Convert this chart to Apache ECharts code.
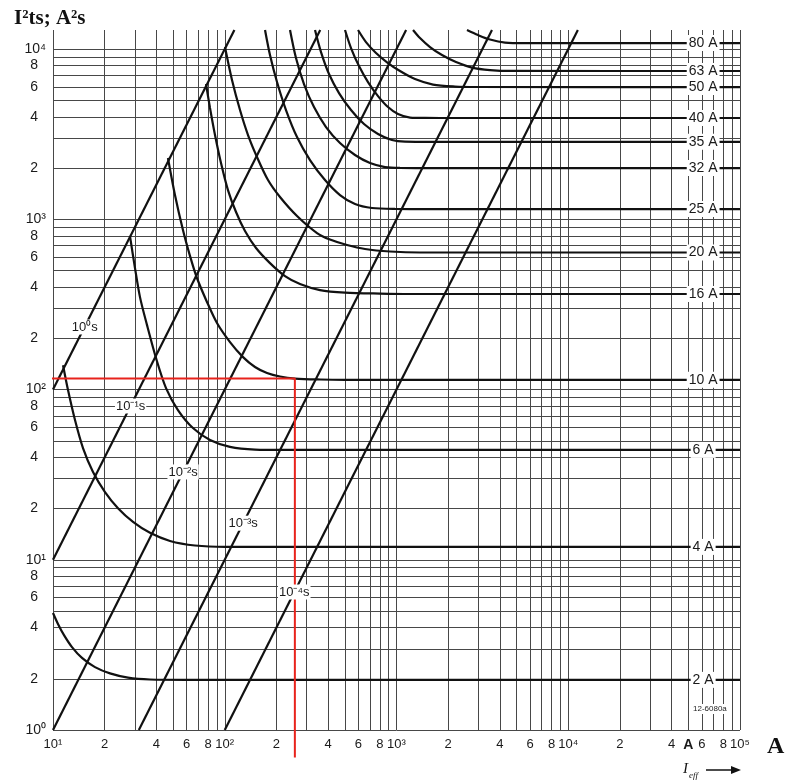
<!DOCTYPE html>
<html><head><meta charset="utf-8">
<script src="https://cdn.jsdelivr.net/npm/echarts@6/dist/echarts.min.js"></script>
<style>html,body{margin:0;padding:0;background:#fff}#c{width:798px;height:780px}</style>
</head><body><div id="c"></div>
<script>
// ---------- axis ranges ----------
const X_MIN = 10, X_MAX = 100000, Y_MIN = 1, Y_MAX = 12940;

// ---------- grid line values ----------
const xGrid = [10,20,30,40,50,60,70,80,90,100,200,300,400,500,600,700,800,900,
  1000,2000,3000,4000,5000,6000,7000,8000,9000,10000,20000,30000,40000,50000,60000,70000,80000,90000,100000];
const yGrid = [1,2,3,4,5,6,7,8,9,10,20,30,40,50,60,70,80,90,100,200,300,400,500,600,700,800,900,
  1000,2000,3000,4000,5000,6000,7000,8000,9000,10000];

// ---------- tick labels ----------
const xTickValues = [10,20,40,60,80,100,200,400,600,800,1000,2000,4000,6000,8000,10000,20000,40000,50000,60000,80000,100000];
const xTickLabels = ['10¹','2','4','6','8','10²','2','4','6','8','10³','2','4','6','8','10⁴','2','4','A','6','8','10⁵'];
const yTickValues = [1,2,4,6,8,10,20,40,60,80,100,200,400,600,800,1000,2000,4000,6000,8000,10000];
const yTickLabels = ['10⁰','2','4','6','8','10¹','2','4','6','8','10²','2','4','6','8','10³','2','4','6','8','10⁴'];

// ---------- fuse pre-arcing I²t curves (I in A, I²t in A²s) ----------
const ratingNames = ['2 A','4 A','6 A','10 A','16 A','20 A','25 A','32 A','35 A','40 A','50 A','63 A','80 A'];
const ratingFlat  = [1.97, 11.9, 44.2, 114, 364, 638, 1148, 2000, 2850, 3935, 5980, 7430, 10840];
const c2A  = [[10,4.87],[10.69,4.2],[11.59,3.61],[12.9,3.07],[14.75,2.65],[17.56,2.34],[21.47,2.15],[27.33,2.03],[36.7,1.98],[60,1.97],[100000,1.97]];
const c4A  = [[11.44,139],[12.23,99.3],[13.43,66.2],[14.95,45.3],[17.1,32.8],[20.08,25.0],[23.9,20.1],[29.24,16.7],[36.7,14.4],[48,12.9],[67.1,12.13],[100.3,11.9],[100000,11.9]];
const c6A  = [[28.07,797],[30.02,517],[32.1,349],[35.27,239],[39.8,153],[45.5,102],[53.4,75.8],[65.3,59.4],[82.1,50.5],[107.3,46],[150,44.4],[220,44.2],[100000,44.2]];
const c10A = [[46.7,2290],[51.3,1388],[57.1,865],[62.8,608],[68.9,452],[78.8,327],[90.1,246],[107.3,190],[127.8,155],[150,135.6],[176.2,125],[209.7,119.2],[256.5,116],[358.5,114.5],[500,114],[100000,114]];
const c16A = [[77.8,6230],[82.06,4503],[87.75,3125],[95.1,2140],[104.4,1485],[116.3,1103],[131.2,853],[152.1,678],[183.4,553],[224.3,464],[274.2,417],[358.5,384],[501.4,371],[801.6,366],[1200,364],[100000,364]];
const c20A = [[100.3,10270],[110.2,6575],[122.7,4383],[136.6,3125],[154.1,2321],[178.6,1700],[209.7,1351],[263.5,1045],[344.5,830],[410,760],[515,706],[655.5,669],[916.5,647],[1370,638],[100000,638]];
const c25A = [[171.6,12935],[183.4,9222],[201.5,6400],[227.3,4383],[263.5,3041],[313.6,2228],[383.5,1700],[468.8,1388],[573.4,1229],[720.1,1165],[980,1150],[1500,1148],[100000,1148]];
const c32A = [[239.9,12935],[259.9,8853],[289.3,6230],[330.9,4564],[388.7,3483],[468.8,2805],[573.4,2385],[701.1,2140],[857.1,2027],[1048,2003],[1600,2000],[100000,2000]];
const c35A = [[335.4,12935],[363.5,9603],[404.6,7133],[462.7,5515],[543.4,4383],[646.9,3627],[780.5,3168],[941.4,2921],[1121,2858],[1600,2850],[100000,2850]];
const c40A = [[501.4,12935],[543.4,10140],[604.9,7946],[682.5,6400],[780.5,5295],[892.2,4564],[1020,4152],[1199,3960],[1464,3937],[2200,3935],[100000,3935]];
const c50A = [[596.9,12935],[664.3,10990],[759.7,9474],[892.2,8276],[1048,7427],[1281,6664],[1632,6187],[2191,6022],[2900,5985],[100000,5980]];
const c63A = [[1248,12935],[1370,11600],[1567,10270],[1840,9222],[2220,8387],[2752,7785],[3503,7528],[4700,7440],[100000,7430]];
const c80A = [[2573,12935],[2983,12085],[3503,11370],[4282,10920],[5601,10845],[100000,10840]];
const fuseCurves = [c2A,c4A,c6A,c10A,c16A,c20A,c25A,c32A,c35A,c40A,c50A,c63A,c80A];
const ratingLabelX = 61000;

// ---------- constant-time lines I²t = I²·t ----------
const timeLabels = ['10⁰s','10⁻¹s','10⁻²s','10⁻³s','10⁻⁴s'];
const timeLineStart = [[10,100],[10,10],[10,1],[31.6,1],[100,1]];
const timeLineEnd   = [[113.8,12940],[359.7,12940],[1137.5,12940],[3597,12940],[11375,12940]];
const timeLabelPos  = [[15.3,233],[28.3,80],[57.2,32.8],[128,16.4],[254,6.46]];

// ---------- red reading line ----------
const redLine = [[8.1,116],[256,116],[256,0.69]];

const SANS = '"Liberation Sans", Arial, Helvetica, sans-serif';
const SERIF = '"Liberation Serif", "Times New Roman", serif';

const chart = echarts.init(document.getElementById('c'));

const gridData = [];
xGrid.forEach(v => gridData.push({coords: [[v, Y_MIN], [v, Y_MAX]]}));
yGrid.forEach(v => gridData.push({coords: [[X_MIN, v], [X_MAX, v]]}));

const series = [];
series.push({
  type: 'lines', coordinateSystem: 'cartesian2d', data: gridData, silent: true, z: 1, clip: false,
  lineStyle: {color: '#484848', width: 1, opacity: 1}
});
fuseCurves.forEach((c, i) => series.push({
  type: 'line', name: ratingNames[i], data: c, showSymbol: false, smooth: 0.3,
  lineStyle: {color: '#111', width: 2.2}, z: 3, silent: true
}));
timeLineStart.forEach((s, i) => series.push({
  type: 'line', data: [s, timeLineEnd[i]], showSymbol: false,
  lineStyle: {color: '#111', width: 2.2}, z: 3, silent: true
}));
series.push({
  type: 'line', data: redLine, showSymbol: false, clip: false,
  lineStyle: {color: '#e8231c', width: 2}, z: 4, silent: true
});
series.push({
  type: 'scatter', symbolSize: 0, z: 6, silent: true, itemStyle: {opacity: 1},
  data: ratingNames.map((n, i) => ({value: [ratingLabelX, ratingFlat[i]], name: n})),
  label: {show: true, position: 'inside', formatter: '{b}', color: '#1a1a1a', fontFamily: SANS, fontSize: 14,
    backgroundColor: '#fff', padding: [1, 2]}
});
series.push({
  type: 'scatter', symbolSize: 0, z: 6, silent: true, itemStyle: {opacity: 1},
  data: timeLabels.map((n, i) => ({value: timeLabelPos[i], name: n})),
  label: {show: true, position: 'inside', formatter: '{b}', color: '#1a1a1a', fontFamily: SANS, fontSize: 13,
    backgroundColor: '#fff', padding: [1, 1]}
});
series.push({
  type: 'scatter', symbolSize: 0, z: 6, silent: true, clip: false, itemStyle: {opacity: 1},
  data: xTickValues.map((v, i) => ({value: [v, Y_MIN], name: xTickLabels[i],
    label: xTickLabels[i] === 'A' ? {fontWeight: 'bold', fontSize: 14} : {}})),
  label: {show: true, position: 'bottom', distance: 8, formatter: '{b}', color: '#1a1a1a', fontFamily: SANS, fontSize: 13}
});
series.push({
  type: 'scatter', symbolSize: 0, z: 6, silent: true, clip: false, itemStyle: {opacity: 1},
  data: yTickValues.map((v, i) => ({value: [X_MIN, v], name: yTickLabels[i],
    label: {distance: yTickLabels[i].length > 1 ? 7 : 15}})),
  label: {show: true, position: 'left', formatter: '{b}', color: '#1a1a1a', fontFamily: SANS, fontSize: 14}
});

chart.setOption({
  animation: false,
  backgroundColor: '#fff',
  grid: {left: 53, right: 58, top: 30, bottom: 50, containLabel: false},
  xAxis: {type: 'log', logBase: 10, min: X_MIN, max: X_MAX,
    axisLine: {show: false}, axisTick: {show: false}, axisLabel: {show: false}, splitLine: {show: false}},
  yAxis: {type: 'log', logBase: 10, min: Y_MIN, max: Y_MAX,
    axisLine: {show: false}, axisTick: {show: false}, axisLabel: {show: false}, splitLine: {show: false}},
  series: series,
  graphic: [
    {type: 'text', left: 14, top: 8, style: {text: 'I²ts; A²s', font: 'bold 21px ' + SERIF, fill: '#111'}},
    {type: 'text', left: 767, top: 735, style: {text: 'A', font: 'bold 24px ' + SERIF, fill: '#111'}},
    {type: 'text', left: 683, top: 762, style: {text: 'I', font: 'italic 15px ' + SERIF, fill: '#111'}},
    {type: 'text', left: 689, top: 771, style: {text: 'eff', font: 'italic 9px ' + SERIF, fill: '#111'}},
    {type: 'line', shape: {x1: 706, y1: 770, x2: 732, y2: 770}, style: {stroke: '#111', lineWidth: 1.5}},
    {type: 'polygon', shape: {points: [[741, 770], [731, 766], [731, 774]]}, style: {fill: '#111'}},
    {type: 'text', left: 692, top: 704, z: 10, style: {text: '12-6080a', font: '8px ' + SANS, fill: '#222',
      backgroundColor: '#fff', padding: [1, 1]}}
  ]
});
</script></body></html>
